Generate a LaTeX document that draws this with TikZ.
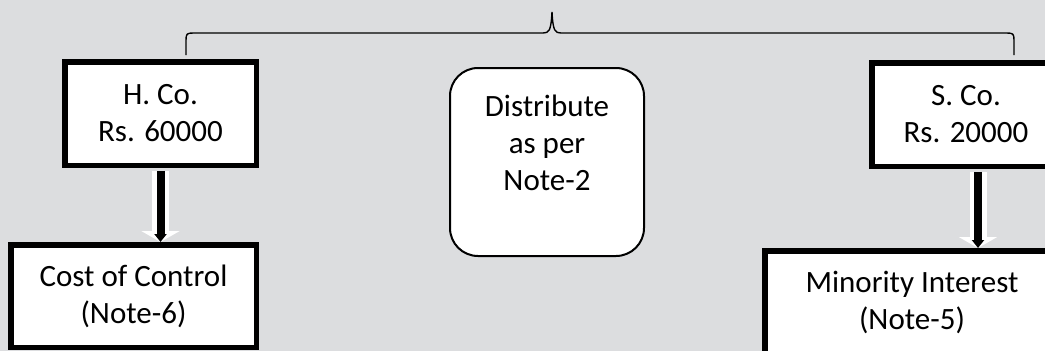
\documentclass[tikz,border=0pt]{standalone}
\usepackage{fontspec}
\setmainfont{Carlito}
\usetikzlibrary{arrows.meta}
\definecolor{bg}{RGB}{220,221,223}
\begin{document}
\begin{tikzpicture}[x=1pt,y=-1pt,
  box/.style={draw=black, line width=5.5pt, fill=white, inner sep=0pt,
    font=\fontsize{31}{37}\selectfont, align=center},
  roundbox/.style={draw=black, line width=2pt, fill=white, inner sep=0pt,
    rounded corners=28pt},
  txt/.style={font=\fontsize{31}{37}\selectfont, align=center, inner sep=0pt},
  outerarrow/.style={white, line width=17pt, -{Triangle[width=38pt,length=11pt]}},
  innerarrow/.style={black, line width=8pt, -{Triangle[width=12pt,length=8pt]}},
  bracel/.style={black, line width=1.4pt}]
\fill[bg] (0,0) rectangle (1045,351);
\useasboundingbox (0,0) rectangle (1045,351);
\clip (0,0) rectangle (1045,351);

% brace
\coordinate (bl) at (186,55);
\coordinate (br) at (1014,55);
\coordinate (bt) at (552,12);
\draw[bracel] (bl) -- (186,40) .. controls (186,34) and (187,33) .. (193,33)
  -- (543,33) .. controls (549,33) and (551,31) .. (bt)
  .. controls (553,31) and (555,33) .. (561,33)
  -- (1007,33) .. controls (1013,33) and (1014,34) .. (1014,40) -- (br);

% boxes
\node[box, minimum width=191.5pt, minimum height=103.5pt] (h) at (160.5,113.5) {H. Co.\\Rs. 60000};
\node[box, minimum width=245.5pt, minimum height=102.5pt] (cost) at (133.5,296) {Cost of Control\\(Note-6)};
\node[box, minimum width=188.5pt, minimum height=103.5pt] (s) at (966,114.5) {S. Co.\\Rs. 20000};
\node[box, minimum width=294.5pt, minimum height=102.5pt] (mi) at (912,302) {Minority Interest\\(Note-5)};
\node[roundbox, minimum width=194pt, minimum height=188pt] (mid) at (547,162) {};
\node[txt] (midtxt) at (547,143) {Distribute\\as per\\Note-2};

% arrows
\draw[outerarrow, shorten <=2.75pt] (h.south) -- (h.south |- cost.north);
\draw[innerarrow, shorten <=2.75pt] (h.south) -- (h.south |- cost.north);
\draw[outerarrow, shorten <=2.75pt] ([xshift=12pt]s.south) -- ([xshift=12pt]s.south |- mi.north);
\draw[innerarrow, shorten <=2.75pt] ([xshift=12pt]s.south) -- ([xshift=12pt]s.south |- mi.north);
\end{tikzpicture}
\end{document}
